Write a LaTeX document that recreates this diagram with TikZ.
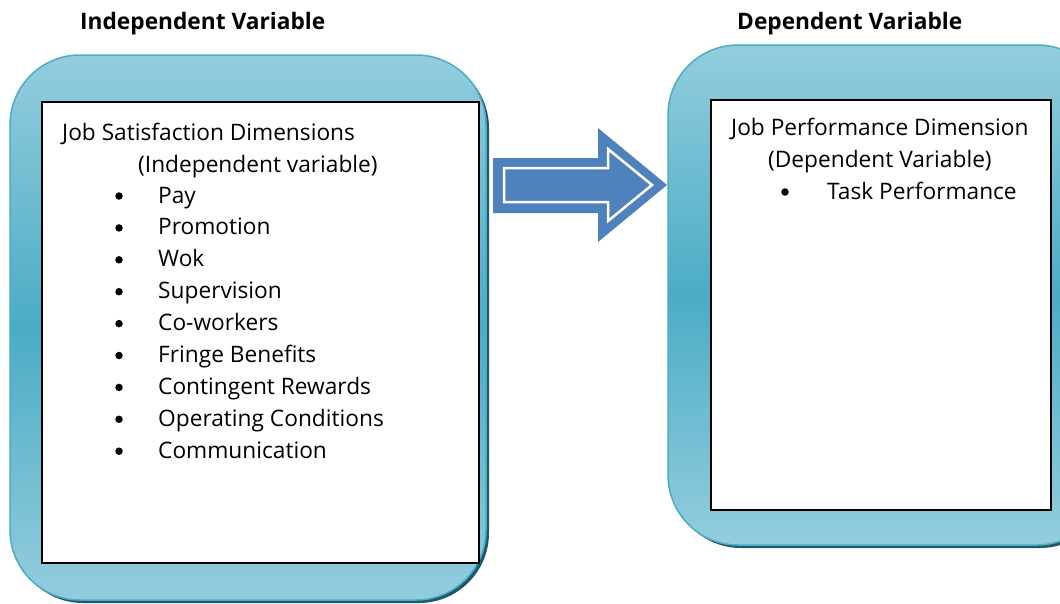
\documentclass[tikz,border=0pt]{standalone}
\usepackage{fontspec}
\setmainfont{Open Sans}
\usetikzlibrary{calc}
\definecolor{panelLight}{HTML}{93CDDD}
\definecolor{panelMid}{HTML}{4BACC6}
\definecolor{panelEdge}{HTML}{4BACC6}
\definecolor{panelShadow}{HTML}{215968}
\definecolor{arrowBlue}{HTML}{4F81BD}
\tikzset{
  panel/.style={draw=panelEdge, line width=1.5pt, rounded corners=70pt,
    top color=panelLight, bottom color=panelLight, middle color=panelMid},
  panelshadow/.style={fill=panelShadow, rounded corners=70pt},
  sheet/.style={draw=black, fill=white, line width=1.5pt},
  title/.style={anchor=base west, inner sep=0pt, font=\fontsize{22.7}{27}\selectfont\bfseries},
  body/.style={anchor=base west, inner sep=0pt, font=\fontsize{22.7}{27}\selectfont},
  dot/.style={circle, fill=black, inner sep=0pt, minimum size=7.5pt}
}
\begin{document}
\begin{tikzpicture}[x=1pt, y=-1pt]
  \useasboundingbox (0,0) rectangle (1060,603);
  \clip (0,0) rectangle (1060,603);

  % headings
  \node[title] (tleft) at (80,29) {Independent Variable};
  \node[title] (tright) at (737,29) {Dependent Variable};

  % left panel
  \fill[panelshadow] (13,58) rectangle (489,603);
  \path[panel] (10,55) rectangle (486,600);
  \node[sheet, anchor=north west, minimum width=437pt, minimum height=461pt] (lsheet) at (41,101) {};

  % right panel
  \fill[panelshadow] (671,48) rectangle (1110,548);
  \path[panel] (668,45) rectangle (1107,545);
  \node[sheet, anchor=north west, minimum width=340pt, minimum height=410pt] (rsheet) at (710,99) {};

  % block arrow
  \fill[arrowBlue] (493,158) -- (598,158) -- (598,128) -- (667,185) -- (598,242) -- (598,213) -- (493,213) -- cycle;
  \draw[white, line width=2.5pt, line join=miter]
    (504,168) -- (608,168) -- (608,149) -- (652,185) -- (608,221) -- (608,202) -- (504,202) -- cycle;

  % left sheet text
  \node[body] (lhead) at (62,140) {Job Satisfaction Dimensions};
  \node[body] (lsub) at (138,172) {(Independent variable)};
  \foreach \i/\t in {0/Pay, 1/Promotion, 2/Wok, 3/Supervision, 4/Co-workers,
                     5/Fringe Benefits, 6/Contingent Rewards,
                     7/Operating Conditions, 8/Communication} {
    \node[dot] (b\i) at (119,{196+31.9*\i}) {};
    \node[body] (item\i) at (158,{203+31.9*\i}) {\t};
  }

  % right sheet text
  \node[body] (rhead) at (731,135) {Job Performance Dimension};
  \node[body] (rsub) at (768,167) {(Dependent Variable)};
  \node[dot] (rb) at (785,192) {};
  \node[body] (ritem) at (827,199) {Task Performance};
\end{tikzpicture}
\end{document}
